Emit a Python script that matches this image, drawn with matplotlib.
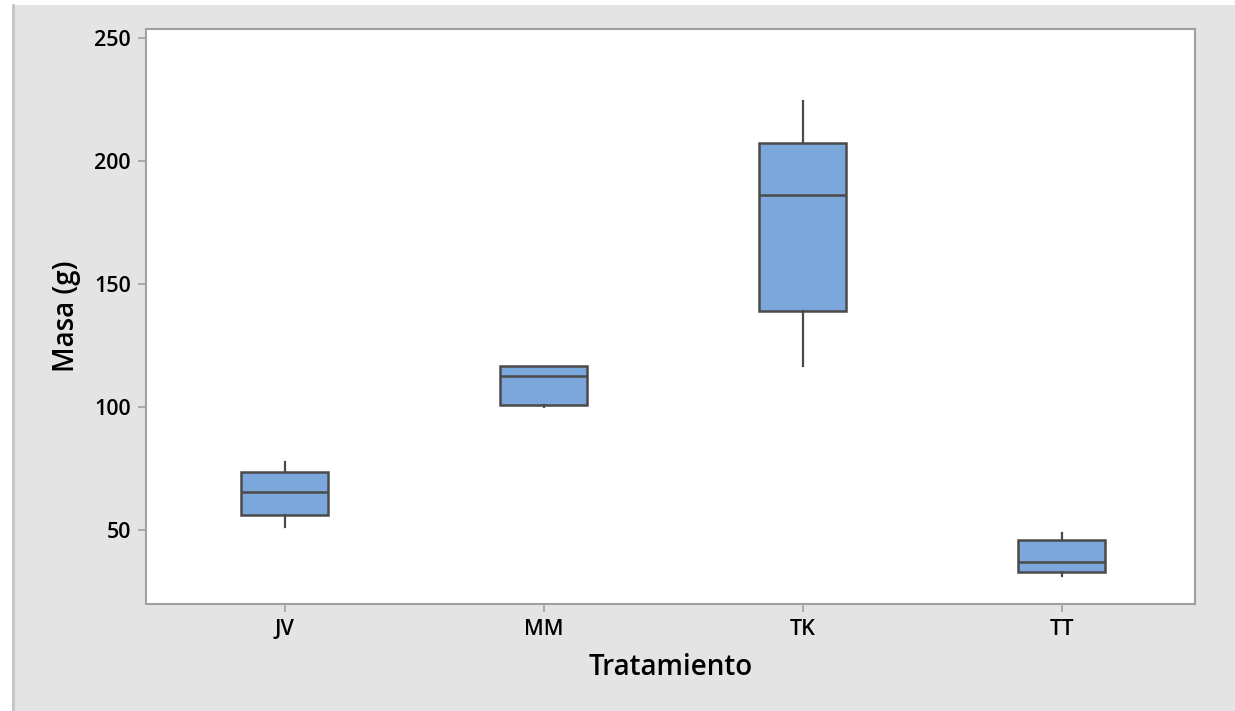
import matplotlib
matplotlib.use("Agg")
import matplotlib.pyplot as plt
from matplotlib.patches import Rectangle
from matplotlib.lines import Line2D

categories = ["JV", "MM", "TK", "TT"]
whisker_low = [51.1, 99.8, 116.8, 31.3]
q1 = [56.0, 100.8, 139.2, 32.8]
median = [65.4, 112.6, 186.3, 37.0]
q3 = [73.7, 116.7, 207.2, 46.1]
whisker_high = [77.6, 116.7, 224.5, 48.6]
yticks = [50, 100, 150, 200, 250]

plt.rcParams['font.family'] = ['Open Sans', 'DejaVu Sans']

fig = plt.figure(figsize=(12.35, 7.11), dpi=100, facecolor="white")
bg = Rectangle((12 / 1235, -0.01), 1.0, 1.01 - 5 / 711, transform=fig.transFigure,
               facecolor="#e4e4e4", edgecolor="none", zorder=-10)
fig.patches.append(bg)
fig.lines.append(Line2D([12.5 / 1235, 12.5 / 1235], [0, 1 - 5 / 711], transform=fig.transFigure,
                        color="#c4c4c4", linewidth=2, zorder=-9))

ax = fig.add_axes([146 / 1235, (711 - 604) / 711, (1195 - 146) / 1235, (604 - 29) / 711])
ax.set_facecolor("white")

stats = []
for i, c in enumerate(categories):
    stats.append(dict(label=c, whislo=whisker_low[i], q1=q1[i], med=median[i],
                      q3=q3[i], whishi=whisker_high[i], fliers=[]))

edge = "#4a4a4a"
ax.bxp(stats, positions=range(1, len(categories) + 1), widths=0.335, patch_artist=True,
       showcaps=False,
       boxprops=dict(facecolor="#7ba7da", edgecolor=edge, linewidth=1.8),
       medianprops=dict(color=edge, linewidth=1.8),
       whiskerprops=dict(color=edge, linewidth=1.6))

ax.set_xlim(0.465, 4.515)
ax.set_ylim(19.9, 253.7)
ax.set_yticks(yticks)
ax.set_xticks(range(1, len(categories) + 1))
ax.set_xticklabels(categories)

for s in ax.spines.values():
    s.set_color("#a0a0a0")
    s.set_linewidth(1.5)
ax.tick_params(direction="out", length=6, width=1.2, color="#a0a0a0",
               labelsize=15.5, pad=5)
for lab in ax.get_xticklabels() + ax.get_yticklabels():
    lab.set_fontweight("semibold")

ax.set_xlabel("Tratamiento", fontsize=20, fontweight="semibold", labelpad=9)
ax.set_ylabel("Masa (g)", fontsize=20, fontweight="semibold", labelpad=9)

fig.savefig("out.png", dpi=100, facecolor="white")
